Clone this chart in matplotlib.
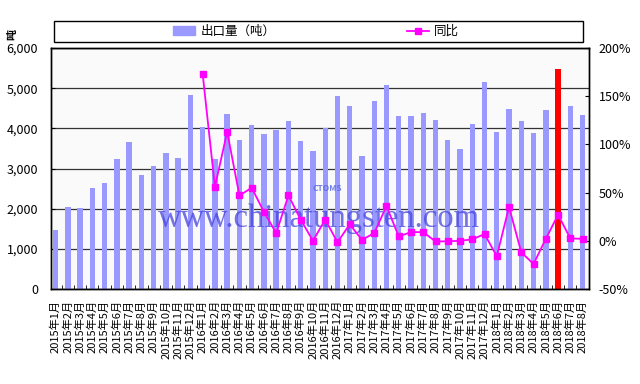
import numpy as np
import matplotlib
matplotlib.use('Agg')
import matplotlib.pyplot as plt
from matplotlib.patches import Rectangle, Patch
from matplotlib.lines import Line2D

plt.rcParams['font.family'] = ['Noto Sans CJK SC', 'DejaVu Sans']

# monthly export volume (tons), 2015-01 .. 2018-08
months = []
for y in (2015, 2016, 2017, 2018):
    for m in range(1, 13):
        if y == 2018 and m > 8:
            break
        months.append('%d年%d月' % (y, m))

volume = [1470, 2050, 2010, 2520, 2640, 3225, 3665, 2835, 3065, 3375, 3260, 4840,
          4030, 3240, 4350, 3715, 4075, 3860, 3965, 4175, 3690, 3440, 4005, 4815,
          4565, 3300, 4690, 5085, 4300, 4300, 4370, 4205, 3715, 3475, 4105, 5155,
          3915, 4470, 4180, 3890, 4445, 5480, 4545, 4330]

# year-on-year change (%), starts 2016-01
yoy = [173, 56, 113, 47, 55, 30, 8, 47, 22, 0, 22, -1.5, 17, 1, 8,
       36, 4.5, 9, 9, -0.7, -0.5, 0, 1.5, 7, -16, 35, -12, -24, 2, 27, 2.5, 2]
yoy_x = np.arange(12, 12 + len(yoy))

highlight = '2018年6月'

bar_colors = ['#ff0000' if m == highlight else '#9999ff' for m in months]
x = np.arange(len(months))

fig = plt.figure(figsize=(6.4, 3.84), dpi=100)
ax = fig.add_axes([50.7 / 640, 1 - 289 / 384, 538 / 640, 241 / 384])
ax.set_facecolor('#fafafa')

ax.bar(x, volume, width=0.44, color=bar_colors, zorder=2)
ax.set_xlim(-0.4, len(months) - 0.55)
ax.set_ylim(0, 6000)
ax.set_yticks(np.arange(0, 6001, 1000))
ax.set_yticklabels(['{:,}'.format(v) for v in range(0, 6001, 1000)], fontsize=9)
ax.yaxis.grid(True, color='#333333', linewidth=0.9, zorder=1)
ax.set_axisbelow(True)
ax.tick_params(axis='y', direction='in', length=3, pad=9)

ax.set_xticks(x)
ax.set_xticklabels(months, rotation=90, fontsize=8)
ax.tick_params(axis='x', length=0, pad=8)
ax.set_xticks(x + 0.5, minor=True)
ax.tick_params(axis='x', which='minor', direction='in', length=3)

# watermark text
ax.text(0.2, 0.29, 'www.chinatungsten.com', transform=ax.transAxes,
        fontsize=23.5, family='Liberation Serif', color='#4444dd', alpha=0.75,
        va='center', ha='left', zorder=3)
ax.text(0.515, 0.415, 'CTOMS', transform=ax.transAxes, fontsize=6,
        fontweight='bold', style='italic', color='#5566dd', alpha=0.8,
        ha='center', va='center', zorder=3)

ax2 = ax.twinx()
ax2.plot(yoy_x, yoy, color='#ff00ff', marker='s', markersize=5, linewidth=1.3, zorder=4)
ax2.set_ylim(-50, 200)
ax2.set_yticks(np.arange(-50, 201, 50))
ax2.set_yticklabels(['%d%%' % v for v in range(-50, 201, 50)], fontsize=9)
ax2.tick_params(axis='y', direction='in', length=3, pad=7)

for a in (ax, ax2):
    for s in a.spines.values():
        s.set_color('black')
        s.set_linewidth(1)

fig.text(12 / 640, 1 - 34 / 384, '吨', rotation=90, fontsize=8, fontweight='bold',
         ha='center', va='center')

# legend box across the top
fig.add_artist(Rectangle((54 / 640, 1 - 41.5 / 384), 529 / 640, 20 / 384,
                         transform=fig.transFigure, facecolor='white',
                         edgecolor='black', linewidth=1))
handles = [Patch(color='#9999ff'),
           Line2D([], [], color='#ff00ff', marker='s', markersize=5, linewidth=1.3)]
fig.legend(handles, ['出口量（吨）', '同比'], loc='center',
           bbox_to_anchor=(316 / 640, 1 - 31.5 / 384), ncol=2, frameon=False,
           fontsize=9, columnspacing=10.5, handlelength=1.8, handletextpad=0.4)

fig.savefig('out.png', dpi=100)
